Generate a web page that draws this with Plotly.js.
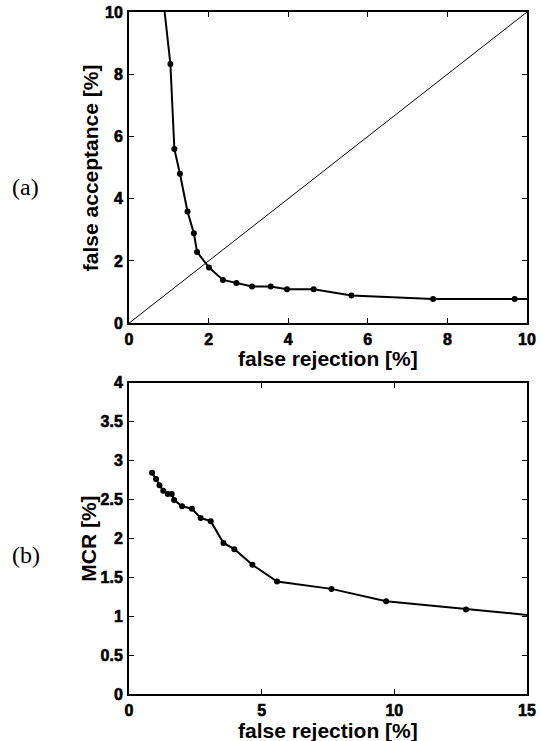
<!DOCTYPE html>
<html>
<head>
<meta charset="utf-8">
<script src="https://cdn.plot.ly/plotly-3.0.1.min.js"></script>
<style>
html,body{margin:0;padding:0;background:#fff;}
#chart{width:541px;height:741px;}
#chart g.xtick text, #chart g.x2tick text, #chart g.ytick text, #chart g.y2tick text { stroke:#000; stroke-width:0.6px; }
</style>
</head>
<body>
<div id="chart"></div>
<script>
// (a) false rejection vs false acceptance [%]
const frA = [0.87, 1.04, 1.14, 1.28, 1.47, 1.63, 1.71, 2.01, 2.36, 2.70, 3.09, 3.56, 3.97, 4.64, 5.59, 7.64, 9.69, 12.70];
const faA = [10.3, 8.33, 5.60, 4.80, 3.59, 2.89, 2.29, 1.79, 1.39, 1.29, 1.18, 1.18, 1.09, 1.09, 0.89, 0.78, 0.78, 0.77];
// equal error reference diagonal
const diagX = [0, 10];
const diagY = [0, 10];
// (b) false rejection vs MCR [%]
const frB = [0.87, 1.02, 1.15, 1.29, 1.46, 1.61, 1.70, 2.00, 2.37, 2.70, 3.08, 3.56, 3.97, 4.65, 5.58, 7.63, 9.69, 12.70, 17.0];
const mcrB = [2.84, 2.76, 2.68, 2.61, 2.57, 2.57, 2.49, 2.41, 2.38, 2.26, 2.22, 1.94, 1.86, 1.66, 1.445, 1.35, 1.19, 1.086, 0.95];

const xTicksA = [0, 2, 4, 6, 8, 10];
const yTicksA = [0, 2, 4, 6, 8, 10];
const xTicksB = [0, 5, 10, 15];
const yTicksB = [0, 0.5, 1, 1.5, 2, 2.5, 3, 3.5, 4];

const xTitleA = 'false rejection [%]';
const yTitleA = 'false acceptance [%]';
const xTitleB = 'false rejection [%]';
const yTitleB = 'MCR [%]';

const boldText = v => '<b>' + v + '</b>';

function tickFont() { return {family: 'Liberation Sans', size: 16, color: '#000', weight: 700}; }
const titleFont = {family: 'Liberation Sans', size: 21, color: '#000', weight: 700};

function axis(vals, extra) {
  return Object.assign({
    showline: true, linecolor: '#000', linewidth: 2, mirror: 'allticks',
    ticks: 'inside', ticklen: 5, tickwidth: 1, tickcolor: '#000',
    showgrid: false, zeroline: false, tickfont: tickFont(),
    tickmode: 'array', tickvals: vals, ticktext: vals.map(boldText),
    ticklabelstandoff: 1, fixedrange: true
  }, extra);
}

const lineStyle = {color: '#000', width: 2};
const markerStyle = {color: '#000', size: 6, symbol: 'circle'};

const data = [
  {x: diagX, y: diagY, xaxis: 'x', yaxis: 'y', mode: 'lines', line: {color: '#000', width: 1}, hoverinfo: 'skip'},
  {x: frA, y: faA, xaxis: 'x', yaxis: 'y', mode: 'lines+markers', line: lineStyle, marker: markerStyle},
  {x: frB, y: mcrB, xaxis: 'x2', yaxis: 'y2', mode: 'lines+markers', line: lineStyle, marker: markerStyle}
];

const labelFont = {family: 'Liberation Serif', size: 24, color: '#000'};

function note(text, x, y, angle, font) {
  return {text: text, xref: 'paper', yref: 'paper', x: x, y: y, xanchor: 'center', yanchor: 'middle',
          textangle: angle, showarrow: false, borderpad: 0, font: font};
}

const layout = {
  width: 541, height: 741,
  margin: {l: 128.5, r: 14.3, t: 12, b: 46.7},
  paper_bgcolor: '#fff', plot_bgcolor: '#fff',
  showlegend: false,
  xaxis: axis(xTicksA, {domain: [0, 1], range: [0, 10], anchor: 'y'}),
  yaxis: axis(yTicksA, {domain: [0.5437, 1], range: [0, 10], anchor: 'x'}),
  xaxis2: axis(xTicksB, {domain: [0, 1], range: [0, 15], anchor: 'y2'}),
  yaxis2: axis(yTicksB, {domain: [0, 0.4567], range: [0, 4], anchor: 'x2'}),
  annotations: [
    note(xTitleA, 0.5, 0.4914, 0, titleFont),
    note(yTitleA, -0.0967, 0.7718, -90, titleFont),
    note(xTitleB, 0.5, -0.0535, 0, titleFont),
    note(yTitleB, -0.102, 0.2283, -90, titleFont),
    note('(a)', -0.26, 0.7435, 0, labelFont),
    note('(b)', -0.26, 0.204, 0, labelFont)
  ]
};

Plotly.newPlot('chart', data, layout, {staticPlot: true, displayModeBar: false});
</script>
</body>
</html>
